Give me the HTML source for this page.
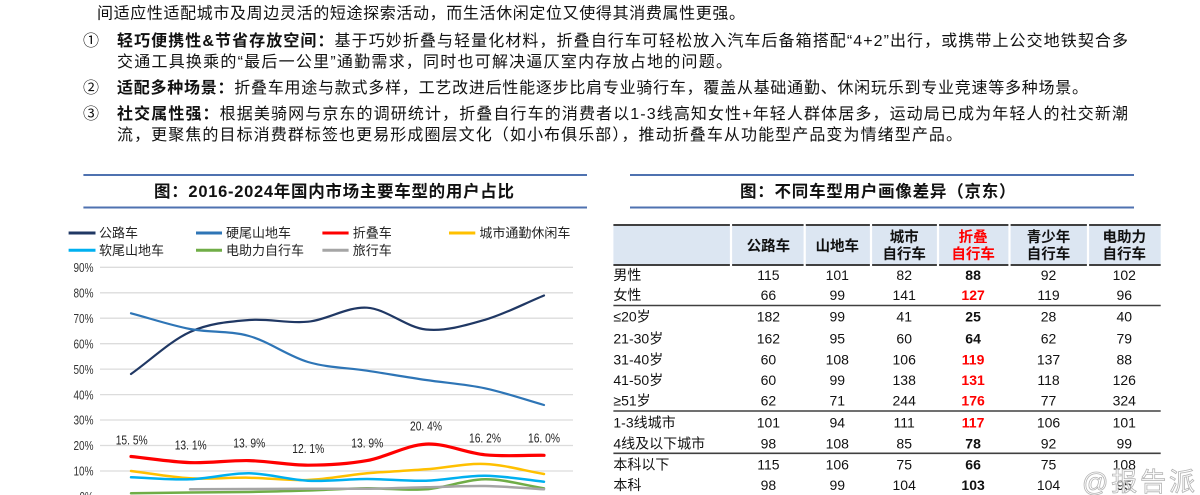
<!DOCTYPE html>
<html><head><meta charset="utf-8"><style>
html,body{margin:0;padding:0;background:#fff;}
svg{display:block;}
text{font-family:"Liberation Sans","Noto Sans CJK SC",sans-serif;}
</style></head><body>
<svg width="1200" height="495" viewBox="0 0 1200 495" xmlns="http://www.w3.org/2000/svg">
<rect width="1200" height="495" fill="#fff"/>
<!-- Paragraph -->
<g font-size="16" fill="#111">
<text x="97" y="18.7" textLength="648" lengthAdjust="spacing">间适应性适配城市及周边灵活的短途探索活动，而生活休闲定位又使得其消费属性更强。</text>
<text x="83" y="45.9">①</text>
<text x="117" y="45.9" textLength="1011" lengthAdjust="spacing"><tspan font-weight="bold">轻巧便携性&amp;节省存放空间：</tspan>基于巧妙折叠与轻量化材料，折叠自行车可轻松放入汽车后备箱搭配“4+2”出行，或携带上公交地铁契合多</text>
<text x="117" y="66.9" textLength="615" lengthAdjust="spacing">交通工具换乘的“最后一公里”通勤需求，同时也可解决逼仄室内存放占地的问题。</text>
<text x="83" y="93.2">②</text>
<text x="117" y="93.2" textLength="971" lengthAdjust="spacing"><tspan font-weight="bold">适配多种场景：</tspan>折叠车用途与款式多样，工艺改进后性能逐步比肩专业骑行车，覆盖从基础通勤、休闲玩乐到专业竞速等多种场景。</text>
<text x="83" y="119.2">③</text>
<text x="117" y="119.2" textLength="1011" lengthAdjust="spacing"><tspan font-weight="bold">社交属性强：</tspan>根据美骑网与京东的调研统计，折叠自行车的消费者以1-3线高知女性+年轻人群体居多，运动局已成为年轻人的社交新潮</text>
<text x="117" y="140.2" textLength="845" lengthAdjust="spacing">流，更聚焦的目标消费群标签也更易形成圈层文化（如小布俱乐部），推动折叠车从功能型产品变为情绪型产品。</text>
</g>

<!-- Left chart title -->
<line x1="83.4" y1="175" x2="587" y2="175" stroke="#4f72b0" stroke-width="2"/>
<line x1="83.4" y1="207.5" x2="587" y2="207.5" stroke="#4f72b0" stroke-width="2"/>
<text x="154" y="196.8" font-size="16.5" font-weight="bold" fill="#111" textLength="360" lengthAdjust="spacing">图：2016-2024年国内市场主要车型的用户占比</text>

<!-- Legend -->
<g stroke-width="3">
<line x1="68.6" y1="233" x2="95.5" y2="233" stroke="#203864"/>
<line x1="196" y1="233" x2="222" y2="233" stroke="#2e75b6"/>
<line x1="322.4" y1="233" x2="348.6" y2="233" stroke="#ff0000"/>
<line x1="449" y1="233" x2="475.3" y2="233" stroke="#ffc000"/>
<line x1="68.6" y1="250.2" x2="95.5" y2="250.2" stroke="#00b0f0"/>
<line x1="196" y1="250.2" x2="222" y2="250.2" stroke="#70ad47"/>
<line x1="322.4" y1="250.2" x2="348.6" y2="250.2" stroke="#a5a5a5"/>
</g>
<g font-size="13" fill="#222">
<text x="99" y="237.6">公路车</text>
<text x="226" y="237.6">硬尾山地车</text>
<text x="352.7" y="237.6">折叠车</text>
<text x="479.4" y="237.6">城市通勤休闲车</text>
<text x="99" y="254.8">软尾山地车</text>
<text x="226" y="254.8">电助力自行车</text>
<text x="352.7" y="254.8">旅行车</text>
</g>

<!-- Gridlines -->
<g stroke="#dcdcdc" stroke-width="1.3">
<line x1="100" y1="267.3" x2="573" y2="267.3"/>
<line x1="100" y1="292.8" x2="573" y2="292.8"/>
<line x1="100" y1="318.2" x2="573" y2="318.2"/>
<line x1="100" y1="343.7" x2="573" y2="343.7"/>
<line x1="100" y1="369.1" x2="573" y2="369.1"/>
<line x1="100" y1="394.6" x2="573" y2="394.6"/>
<line x1="100" y1="420" x2="573" y2="420"/>
<line x1="100" y1="445.5" x2="573" y2="445.5"/>
<line x1="100" y1="471" x2="573" y2="471"/>
</g>
<g font-size="13" fill="#333" text-anchor="end">
<text x="93.5" y="272" textLength="20" lengthAdjust="spacingAndGlyphs">90%</text>
<text x="93.5" y="297.5" textLength="20" lengthAdjust="spacingAndGlyphs">80%</text>
<text x="93.5" y="322.9" textLength="20" lengthAdjust="spacingAndGlyphs">70%</text>
<text x="93.5" y="348.4" textLength="20" lengthAdjust="spacingAndGlyphs">60%</text>
<text x="93.5" y="373.8" textLength="20" lengthAdjust="spacingAndGlyphs">50%</text>
<text x="93.5" y="399.3" textLength="20" lengthAdjust="spacingAndGlyphs">40%</text>
<text x="93.5" y="424.7" textLength="20" lengthAdjust="spacingAndGlyphs">30%</text>
<text x="93.5" y="450.2" textLength="20" lengthAdjust="spacingAndGlyphs">20%</text>
<text x="93.5" y="475.7" textLength="20" lengthAdjust="spacingAndGlyphs">10%</text>
<text x="93.5" y="501.2" textLength="14" lengthAdjust="spacingAndGlyphs">0%</text>
</g>

<!-- Series -->
<g fill="none" stroke-linecap="round" stroke-linejoin="round">
<path stroke="#203864" stroke-width="2.2" d="M131,374 C150.7,360 170.3,341 190,332 C209.7,323 229.3,321.7 249,320 C268.7,318.3 288.3,323.8 308,321.7 C327.7,319.7 347.3,306.4 367,307.7 C386.7,309 406.3,327.5 426,329.5 C445.7,331.5 465.3,325.5 485,319.8 C504.7,314.1 524.3,303.6 544,295.5"/>
<path stroke="#2e75b6" stroke-width="2.2" d="M131,313.3 C150.7,318.5 170.3,325.2 190,329 C209.7,332.8 229.3,330.5 249,336 C268.7,341.5 288.3,356.2 308,362 C327.7,367.8 347.3,367.7 367,370.7 C386.7,373.7 406.3,377.1 426,380 C445.7,382.9 465.3,384.1 485,388.3 C504.7,392.5 524.3,399.4 544,405"/>
<path stroke="#ff0000" stroke-width="3.2" d="M131,456.5 C150.7,458.5 170.3,461.9 190,462.6 C209.7,463.3 229.3,460.2 249,460.6 C268.7,461 288.3,465.2 308,465.2 C327.7,465.2 347.3,464.1 367,460.6 C386.7,457.1 406.3,445.1 426,444.1 C445.7,443.1 465.3,452.9 485,454.8 C504.7,456.7 524.3,455.1 544,455.3"/>
<path stroke="#ffc000" stroke-width="2.5" d="M131,471 C150.7,473.4 170.3,477.2 190,478.3 C209.7,479.4 229.3,477.4 249,477.7 C268.7,478 288.3,480.7 308,480 C327.7,479.3 347.3,475.1 367,473.3 C386.7,471.5 406.3,470.9 426,469.3 C445.7,467.8 465.3,463.2 485,464 C504.7,464.8 524.3,470.7 544,474"/>
<path stroke="#00b0f0" stroke-width="2.5" d="M131,477.3 C150.7,478 170.3,480 190,479.3 C209.7,478.6 229.3,473.1 249,473.3 C268.7,473.5 288.3,479.8 308,480.7 C327.7,481.7 347.3,479 367,479 C386.7,479 406.3,481.3 426,480.7 C445.7,480.2 465.3,475.5 485,475.7 C504.7,475.9 524.3,479.7 544,481.7"/>
<path stroke="#70ad47" stroke-width="2.5" d="M131,493.3 C150.7,493 170.3,492.7 190,492.5 C209.7,492.3 229.3,492.3 249,492 C268.7,491.7 288.3,491.1 308,490.5 C327.7,489.9 347.3,488.5 367,488.3 C386.7,488.1 406.3,490.8 426,489.3 C445.7,487.8 465.3,479.5 485,479.3 C504.7,479.1 524.3,485.3 544,488.3"/>
<path stroke="#a5a5a5" stroke-width="2.5" d="M190,489.3 C209.7,489.2 229.3,489.1 249,489 C268.7,488.9 288.3,488.75 308,488.7 C327.7,488.65 347.3,488.9 367,488.7 C386.7,488.5 406.3,487.75 426,487.3 C445.7,486.85 465.3,485.7 485,486 C504.7,486.3 524.3,488.2 544,489.3"/>
</g>

<!-- Data labels -->
<g font-size="13" fill="#222" text-anchor="middle">
<text x="131.7" y="444.7" textLength="32" lengthAdjust="spacingAndGlyphs">15. 5%</text>
<text x="190.7" y="449.7" textLength="32" lengthAdjust="spacingAndGlyphs">13. 1%</text>
<text x="249.3" y="447.4" textLength="32" lengthAdjust="spacingAndGlyphs">13. 9%</text>
<text x="308.3" y="453" textLength="32" lengthAdjust="spacingAndGlyphs">12. 1%</text>
<text x="367.3" y="447.4" textLength="32" lengthAdjust="spacingAndGlyphs">13. 9%</text>
<text x="426" y="430.7" textLength="32" lengthAdjust="spacingAndGlyphs">20. 4%</text>
<text x="485" y="442.4" textLength="32" lengthAdjust="spacingAndGlyphs">16. 2%</text>
<text x="544" y="442.4" textLength="32" lengthAdjust="spacingAndGlyphs">16. 0%</text>
</g>

<!-- Right title -->
<line x1="630" y1="175" x2="1134" y2="175" stroke="#4f72b0" stroke-width="2"/>
<line x1="630" y1="207.5" x2="1134" y2="207.5" stroke="#4f72b0" stroke-width="2"/>
<text x="740" y="196.8" font-size="16.5" font-weight="bold" fill="#111" textLength="275.5" lengthAdjust="spacing">图：不同车型用户画像差异（京东）</text>

<!-- Table header -->
<rect x="613.4" y="225" width="547.3" height="40" fill="#dce6f2"/>
<line x1="613.4" y1="225" x2="1160.7" y2="225" stroke="#404040" stroke-width="2"/>
<line x1="613.4" y1="265" x2="1160.7" y2="265" stroke="#404040" stroke-width="2"/>
<g stroke="#fff" stroke-width="2.2">
<line x1="731" y1="223" x2="731" y2="267"/>
<line x1="804.7" y1="223" x2="804.7" y2="267"/>
<line x1="871" y1="223" x2="871" y2="267"/>
<line x1="938" y1="223" x2="938" y2="267"/>
<line x1="1009.5" y1="223" x2="1009.5" y2="267"/>
<line x1="1088" y1="223" x2="1088" y2="267"/>
</g>
<g font-size="14.5" font-weight="bold" fill="#111" text-anchor="middle">
<text x="768.4" y="251">公路车</text>
<text x="837.3" y="251">山地车</text>
<text x="904.2" y="242.2">城市</text>
<text x="904.2" y="259">自行车</text>
<text x="973.1" y="242.2" fill="#ff0000">折叠</text>
<text x="973.1" y="259" fill="#ff0000">自行车</text>
<text x="1048.5" y="242.2">青少年</text>
<text x="1048.5" y="259">自行车</text>
<text x="1124.3" y="242.2">电助力</text>
<text x="1124.3" y="259">自行车</text>
</g>

<!-- Table separators -->
<g stroke="#404040" stroke-width="1.6">
<line x1="613.4" y1="305.5" x2="1160.7" y2="305.5"/>
<line x1="613.4" y1="411" x2="1160.7" y2="411"/>
<line x1="613.4" y1="453.3" x2="1160.7" y2="453.3"/>
</g>

<!-- Table body -->
<g font-size="14" fill="#111">
<text x="613.4" y="280">男性</text>
<text x="613.4" y="300">女性</text>
<text x="613.4" y="321.7">≤20岁</text>
<text x="613.4" y="343.3">21-30岁</text>
<text x="613.4" y="364.3">31-40岁</text>
<text x="613.4" y="385">41-50岁</text>
<text x="613.4" y="405.7">≥51岁</text>
<text x="613.4" y="427.7">1-3线城市</text>
<text x="613.4" y="448.3">4线及以下城市</text>
<text x="613.4" y="469.3">本科以下</text>
<text x="613.4" y="490">本科</text>
</g>
<g font-size="14" fill="#111" text-anchor="middle">
<text x="768.4" y="280">115</text><text x="837.3" y="280">101</text><text x="904.2" y="280">82</text><text x="973.1" y="280" font-weight="bold">88</text><text x="1048.5" y="280">92</text><text x="1124.3" y="280">102</text>
<text x="768.4" y="300">66</text><text x="837.3" y="300">99</text><text x="904.2" y="300">141</text><text x="973.1" y="300" font-weight="bold" fill="#ff0000">127</text><text x="1048.5" y="300">119</text><text x="1124.3" y="300">96</text>
<text x="768.4" y="321.7">182</text><text x="837.3" y="321.7">99</text><text x="904.2" y="321.7">41</text><text x="973.1" y="321.7" font-weight="bold">25</text><text x="1048.5" y="321.7">28</text><text x="1124.3" y="321.7">40</text>
<text x="768.4" y="343.3">162</text><text x="837.3" y="343.3">95</text><text x="904.2" y="343.3">60</text><text x="973.1" y="343.3" font-weight="bold">64</text><text x="1048.5" y="343.3">62</text><text x="1124.3" y="343.3">79</text>
<text x="768.4" y="364.3">60</text><text x="837.3" y="364.3">108</text><text x="904.2" y="364.3">106</text><text x="973.1" y="364.3" font-weight="bold" fill="#ff0000">119</text><text x="1048.5" y="364.3">137</text><text x="1124.3" y="364.3">88</text>
<text x="768.4" y="385">60</text><text x="837.3" y="385">99</text><text x="904.2" y="385">138</text><text x="973.1" y="385" font-weight="bold" fill="#ff0000">131</text><text x="1048.5" y="385">118</text><text x="1124.3" y="385">126</text>
<text x="768.4" y="405.7">62</text><text x="837.3" y="405.7">71</text><text x="904.2" y="405.7">244</text><text x="973.1" y="405.7" font-weight="bold" fill="#ff0000">176</text><text x="1048.5" y="405.7">77</text><text x="1124.3" y="405.7">324</text>
<text x="768.4" y="427.7">101</text><text x="837.3" y="427.7">94</text><text x="904.2" y="427.7">111</text><text x="973.1" y="427.7" font-weight="bold" fill="#ff0000">117</text><text x="1048.5" y="427.7">106</text><text x="1124.3" y="427.7">101</text>
<text x="768.4" y="448.3">98</text><text x="837.3" y="448.3">108</text><text x="904.2" y="448.3">85</text><text x="973.1" y="448.3" font-weight="bold">78</text><text x="1048.5" y="448.3">92</text><text x="1124.3" y="448.3">99</text>
<text x="768.4" y="469.3">115</text><text x="837.3" y="469.3">106</text><text x="904.2" y="469.3">75</text><text x="973.1" y="469.3" font-weight="bold">66</text><text x="1048.5" y="469.3">75</text><text x="1124.3" y="469.3">108</text>
<text x="768.4" y="490">98</text><text x="837.3" y="490">99</text><text x="904.2" y="490">104</text><text x="973.1" y="490" font-weight="bold">103</text><text x="1048.5" y="490">104</text><text x="1124.3" y="490">95</text>
</g>

<!-- Watermark -->
<text x="1082" y="491" font-size="26" fill="#ffffff" fill-opacity="0.55" stroke="#b4b4b4" stroke-width="0.8" textLength="113" lengthAdjust="spacing">@报告派</text>
</svg>
</body></html>
